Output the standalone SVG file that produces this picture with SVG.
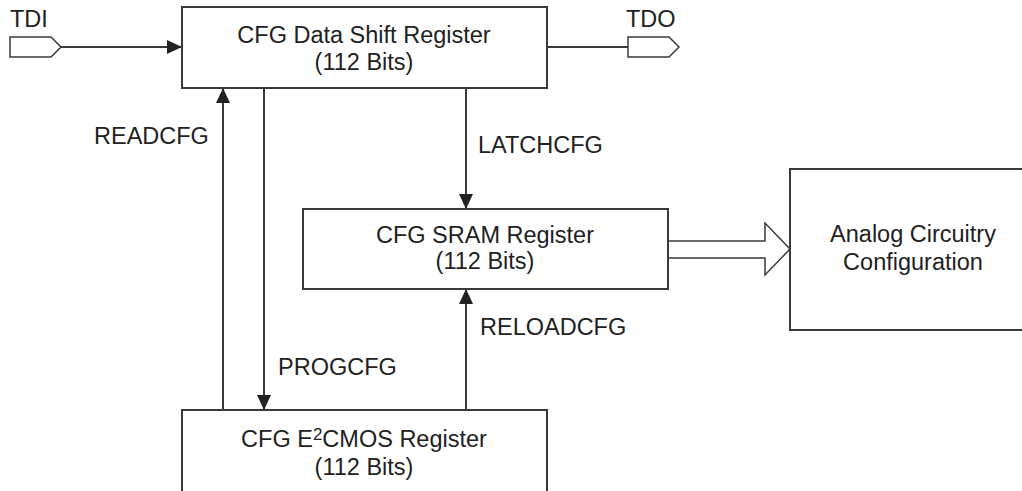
<svg xmlns="http://www.w3.org/2000/svg" width="1022" height="491" viewBox="0 0 1022 491">
  <style>
    .box { fill: #ffffff; stroke: #3a3a3a; stroke-width: 2; }
    .wire { fill: none; stroke: #3a3a3a; stroke-width: 2; }
    .port { fill: #ffffff; stroke: #3a3a3a; stroke-width: 1.5; }
    text { font-family: "Liberation Sans", Arial, sans-serif; font-size: 23.5px; fill: #222222; }
    .c { text-anchor: middle; }
  </style>
  <defs>
    <marker id="arrow" viewBox="0 0 15 14" refX="15" refY="7" markerWidth="15" markerHeight="14" markerUnits="userSpaceOnUse" orient="auto">
      <path d="M0,0 L15,7 L0,14 Z" fill="#222222"/>
    </marker>
  </defs>

  <rect width="1022" height="491" fill="#ffffff"/>

  <!-- connectors -->
  <g id="connectors">
    <line class="wire" x1="61" y1="47" x2="182" y2="47" marker-end="url(#arrow)"/>
    <line class="wire" x1="547" y1="47" x2="628" y2="47"/>
    <line class="wire" x1="223" y1="410" x2="223" y2="88" marker-end="url(#arrow)"/>
    <line class="wire" x1="264" y1="88" x2="264" y2="410" marker-end="url(#arrow)"/>
    <line class="wire" x1="466" y1="88" x2="466" y2="209" marker-end="url(#arrow)"/>
    <line class="wire" x1="466" y1="410" x2="466" y2="289" marker-end="url(#arrow)"/>
    <!-- wide bus arrow into analog block -->
    <path class="port" d="M668,241 L765,241 L765,223 L790,249 L765,275 L765,258 L668,258"/>
    <text x="94" y="144">READCFG</text>
    <text x="278" y="375">PROGCFG</text>
    <text x="478" y="153">LATCHCFG</text>
    <text x="480" y="335">RELOADCFG</text>
  </g>

  <!-- input port -->
  <g id="tdi">
    <path class="port" d="M10,37 L51,37 L61,47 L51,57 L10,57 Z"/>
    <text x="10" y="27">TDI</text>
  </g>

  <!-- output port -->
  <g id="tdo">
    <path class="port" d="M628,37 L669,37 L679,47 L669,57 L628,57 Z"/>
    <text x="626" y="27">TDO</text>
  </g>

  <g id="shift-register">
    <rect class="box" x="182" y="7" width="365" height="81"/>
    <text class="c" x="364" y="43">CFG Data Shift Register</text>
    <text class="c" x="364" y="70">(112 Bits)</text>
  </g>

  <g id="sram-register">
    <rect class="box" x="303" y="209" width="365" height="80"/>
    <text class="c" x="485" y="243">CFG SRAM Register</text>
    <text class="c" x="485" y="269">(112 Bits)</text>
  </g>

  <g id="e2cmos-register">
    <rect class="box" x="182" y="410" width="365" height="100"/>
    <text class="c" x="364" y="447">CFG E<tspan font-size="17" dy="-7">2</tspan><tspan dy="7">CMOS Register</tspan></text>
    <text class="c" x="364" y="475">(112 Bits)</text>
  </g>

  <g id="analog">
    <rect class="box" x="790" y="169" width="260" height="161"/>
    <text class="c" x="913" y="242">Analog Circuitry</text>
    <text class="c" x="913" y="270">Configuration</text>
  </g>
</svg>
